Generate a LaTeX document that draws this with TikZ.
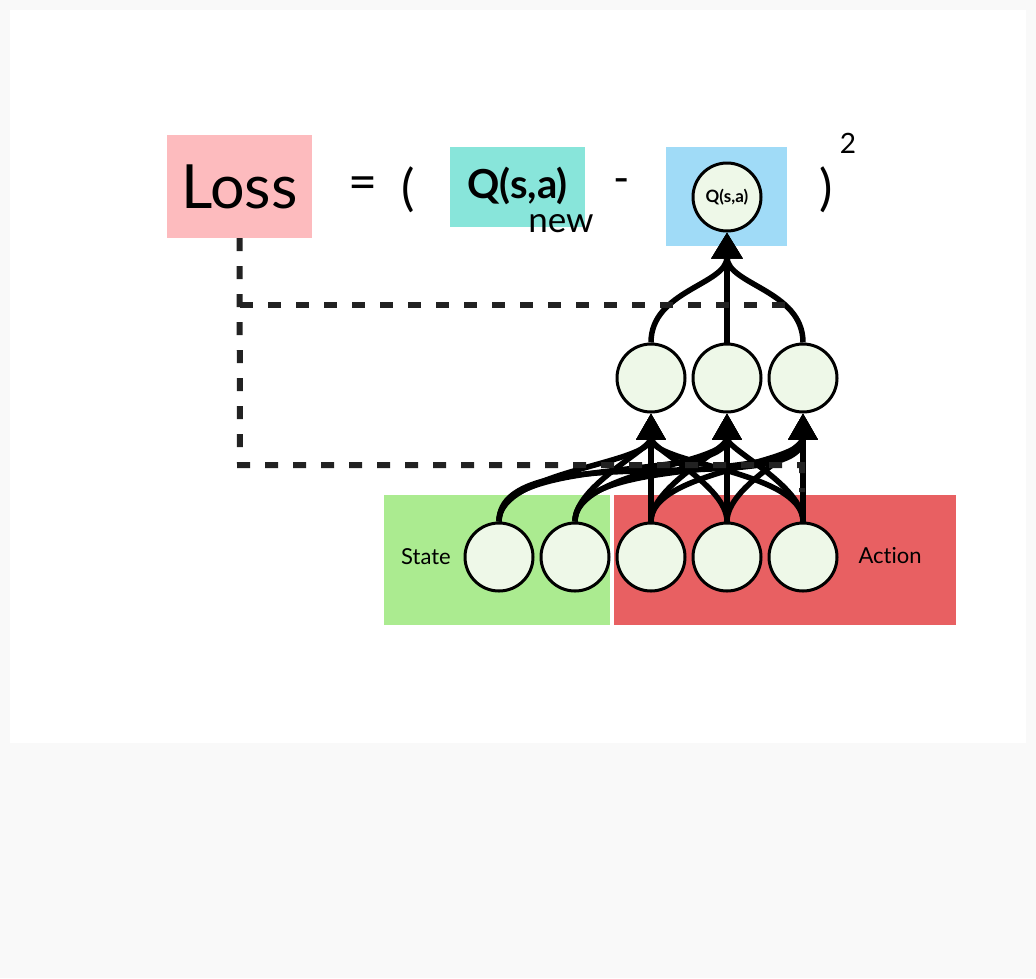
\documentclass[tikz,border=0pt]{standalone}
\usepackage{fontspec}
\setmainfont{Lato}[Ligatures={NoCommon}]
\usetikzlibrary{arrows.meta,positioning}

\definecolor{pagegray}{HTML}{F9F9F9}
\definecolor{losspink}{HTML}{FDBBBE}
\definecolor{qnewteal}{HTML}{88E5DA}
\definecolor{qoldblue}{HTML}{A0DBF7}
\definecolor{statefill}{HTML}{ABEB90}
\definecolor{actionfill}{HTML}{E86062}
\definecolor{neuronfill}{HTML}{EEF8E8}
\definecolor{dashgray}{HTML}{222222}

\begin{document}
\begin{tikzpicture}[x=1pt,y=-1pt,
    neuron/.style={circle,draw=black,line width=3pt,fill=neuronfill,minimum size=68pt,inner sep=0pt},
    wire/.style={line width=5.5pt,-{Triangle[length=26pt,width=28pt]}},
    lossline/.style={draw=dashgray,line width=6pt,dash pattern=on 13pt off 15pt},
    colbox/.style={inner sep=0pt,anchor=center} ]
    % page
    \fill[pagegray] (0,0) rectangle (1036,978);
    \fill[white] (10,10) rectangle (1026,743);

    % equation
    \node[colbox,fill=losspink,minimum width=145pt,minimum height=103pt,font=\fontsize{61}{63}\selectfont] (loss) at (239.5,186.5) {Loss};
    \node[font=\fontsize{50}{52}\selectfont] (eq) at (363,188) {=};
    \node[font=\fontsize{50}{52}\selectfont] (lpar) at (408,190) {(};
    \node[colbox,fill=qnewteal,minimum width=135pt,minimum height=80pt] (qnew) at (517.5,187) {};
    \node[font=\fontsize{40}{42}\selectfont\bfseries,inner sep=0pt] (qnewtext) at (517.5,186) {Q(s,a)};
    \node[font=\fontsize{35}{37}\selectfont,inner sep=0pt] (newlabel) at (561,224) {new};
    \node[font=\fontsize{44}{46}\selectfont] (minus) at (622,186) {-};
    \node[colbox,fill=qoldblue,minimum width=121pt,minimum height=99pt] (qbox) at (726.5,196.5) {};
    \node[font=\fontsize{50}{52}\selectfont] (rpar) at (826,190) {)};
    \node[font=\fontsize{28}{30}\selectfont] (sq) at (848,143) {2};

    % input groups
    \node[colbox,fill=statefill,minimum width=226pt,minimum height=130pt] (state) at (497,560) {};
    \node[colbox,fill=actionfill,minimum width=342pt,minimum height=130pt] (action) at (785,560) {};
    \node[font=\fontsize{22}{24}\selectfont] (statelabel) at (426,557) {State};
    \node[font=\fontsize{22}{24}\selectfont] (actionlabel) at (890,556) {Action};

    % network
    \node[neuron] (in1) at (499,557) {};
    \node[neuron,right=5pt of in1] (in2) {};
    \node[neuron,right=5pt of in2] (in3) {};
    \node[neuron,right=5pt of in3] (in4) {};
    \node[neuron,right=5pt of in4] (in5) {};
    \node[neuron] (hid1) at (651,378) {};
    \node[neuron,right=5pt of hid1] (hid2) {};
    \node[neuron,right=5pt of hid2] (hid3) {};
    \node[neuron,font=\fontsize{17}{18}\selectfont\bfseries] (qout) at (727,197) {Q(s,a)};

    \foreach \i in {1,...,5}
        \foreach \j in {1,2,3}
            \draw[wire] (in\i.north) to[out=90,in=-90,looseness=0.7] (hid\j.south);
    \foreach \j in {1,2,3}
        \draw[wire,-{Triangle[length=26pt,width=30pt]}] (hid\j.north) to[out=90,in=-90] (qout.south);

    % loss path
    \coordinate (corner) at (240,465);
    \coordinate (branch) at (240,305);
    \coordinate (upperend) at (795,305);
    \coordinate (lowerturn) at (802,465);
    \coordinate (lowerend) at (802,492);
    \draw[lossline] (loss.south) -- (corner) -- (lowerturn) -- (lowerend);
    \draw[lossline] (branch) -- (upperend);
\end{tikzpicture}
\end{document}
